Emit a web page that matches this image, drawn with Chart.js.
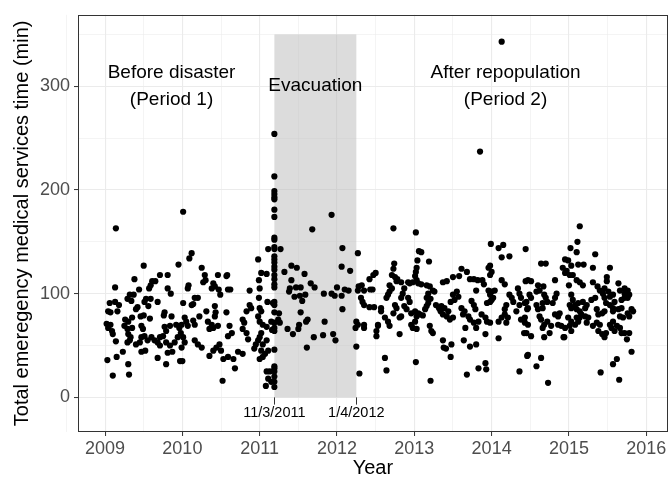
<!DOCTYPE html>
<html>
<head>
<meta charset="utf-8">
<script src="https://cdn.jsdelivr.net/npm/chart.js@4.4.0/dist/chart.umd.min.js"></script>
<style>
html,body{margin:0;padding:0;background:#ffffff;}
canvas{display:block;}
</style>
</head>
<body>
<canvas id="c" width="671" height="479"></canvas>
<script>
// ---- data: [decimal year, minutes] ----
const period1Points = [
[2009.14,163],[2009.50,127],[2009.95,128],[2009.38,114],[2009.71,118],[2009.81,118],[2009.65,112],[2009.61,112],
[2009.13,106],[2009.44,104],[2009.57,105],[2009.59,108],[2009.81,105],[2009.85,100],[2009.32,99],[2009.37,99],
[2009.29,95],[2009.34,93],[2009.53,95],[2009.59,95],[2009.51,92],[2009.68,92],[2009.06,91],[2009.13,92],
[2009.18,89],[2009.04,83],[2009.07,82],[2009.16,83],[2009.42,87],[2009.40,85],[2009.56,88],[2009.77,82],
[2009.76,79],[2009.86,78],[2010.01,91],[2009.35,77],[2009.46,78],[2009.50,79],[2009.58,76],[2009.02,71],
[2009.07,70],[2009.04,67],[2009.09,64],[2009.26,75],[2009.30,73],[2009.25,69],[2009.29,66],[2009.35,67],
[2009.47,69],[2009.49,66],[2009.77,68],[2009.84,69],[2009.79,64],[2009.92,70],[2009.96,67],[2009.98,62],
[2009.10,61],[2009.30,61],[2009.33,58],[2009.32,55],[2009.29,53],[2009.47,58],[2009.51,59],[2009.55,55],
[2009.60,58],[2009.64,55],[2009.68,53],[2009.71,58],[2009.75,59],[2009.40,51],[2009.45,53],[2009.79,53],
[2009.84,50],[2009.90,53],[2009.94,58],[2009.14,54],[2009.71,50],[2009.47,44],[2009.52,45],[2009.81,43],
[2009.87,44],[2009.23,44],[2009.15,39],[2009.03,36],[2009.68,38],[2009.30,32],[2009.79,32],[2009.97,35],
[2010.00,35],[2009.10,21],[2009.31,22],
[2010.01,179],[2010.12,139],[2010.09,134],[2010.25,125],[2010.29,118],[2010.27,111],[2010.30,113],[2010.46,118],
[2010.57,117],[2010.58,118],[2010.40,110],[2010.42,107],[2010.38,105],[2010.08,108],[2010.07,105],[2010.47,104],
[2010.49,99],[2010.59,104],[2010.62,104],[2010.98,133],[2011.02,120],[2010.99,113],[2010.87,103],[2011.00,105],
[2010.99,96],[2010.16,96],[2010.20,96],[2010.14,90],[2010.12,89],[2010.31,83],[2010.42,88],[2010.43,82],
[2010.42,78],[2010.57,82],[2010.03,77],[2010.05,73],[2009.99,70],[2010.07,69],[2010.14,74],[2010.16,70],
[2010.22,78],[2010.33,73],[2010.38,70],[2010.35,66],[2010.40,67],[2010.46,69],[2010.61,69],[2010.64,62],
[2010.59,59],[2010.78,75],[2010.80,72],[2010.78,66],[2010.83,62],[2010.85,56],[2010.87,89],[2010.89,86],
[2010.83,83],[2011.00,86],[2011.02,83],[2010.98,78],[2011.00,73],[2011.04,70],[2011.02,62],[2011.00,58],
[2010.98,55],[2011.04,51],[2011.02,45],[2011.04,39],[2011.00,37],[2011.09,25],[2011.08,11],[2010.01,58],
[2010.03,53],[2009.99,48],[2010.16,55],[2010.20,51],[2010.25,48],[2010.35,40],[2010.40,45],[2010.44,48],
[2010.48,51],[2010.50,45],[2010.53,37],[2010.59,39],[2010.66,37],[2010.72,44],[2010.78,42],[2010.68,28],
[2010.52,16],[2010.95,51],[2010.93,47],
[2011.11,143],[2011.09,119],[2011.10,92],[2011.17,91],[2011.15,73],[2011.09,68],[2011.16,65],[2011.09,55],
[2011.11,45],[2011.07,42],[2011.13,25],[2011.11,18],[2011.15,15]
];
const evacuationPoints = [
[2011.19,254],[2011.19,213],[2011.19,199],[2011.19,196],[2011.19,193],[2011.19,191],[2011.19,181],[2011.19,174],
[2011.19,154],[2011.19,152],[2011.19,145],[2011.19,143],[2011.19,136],[2011.19,133],[2011.19,130],[2011.19,126],
[2011.19,123],[2011.19,118],[2011.19,114],[2011.19,109],[2011.19,106],[2011.19,92],[2011.19,89],[2011.19,82],
[2011.19,72],[2011.19,67],[2011.19,64],[2011.19,46],[2011.19,30],[2011.19,28],[2011.19,25],[2011.19,20],
[2011.19,15],[2011.19,10],
[2011.27,143],[2011.25,81],[2011.24,75],[2011.26,72],
[2011.32,121],[2011.41,127],[2011.48,125],[2011.58,119],[2011.41,113],[2011.68,162],[2011.93,176],[2012.07,144],
[2012.06,126],[2012.17,122],[2011.39,105],[2011.47,106],[2011.53,106],[2011.38,102],[2011.45,97],[2011.52,98],
[2011.59,99],[2011.55,93],[2011.66,110],[2011.71,106],[2011.83,100],[2011.93,100],[2011.97,98],[2012.00,106],
[2012.06,98],[2012.10,104],[2012.15,103],[2012.07,85],[2011.53,82],[2011.62,75],[2011.60,73],[2011.84,73],
[2011.51,70],[2011.50,66],[2011.36,66],[2011.43,61],[2011.70,58],[2011.82,60],[2011.95,61],[2011.98,55],
[2011.61,48]
];
const period2Points = [
[2012.27,139],[2012.25,73],[2012.24,67],[2012.25,49],[2012.29,23],[2012.27,103],
[2012.73,163],[2013.02,159],[2013.06,141],[2013.09,140],[2013.19,131],[2013.04,132],[2012.74,129],[2012.73,124],
[2013.03,125],[2013.02,121],[2012.50,120],[2012.47,118],[2012.42,114],[2012.71,118],[2012.75,116],[2012.78,114],
[2012.77,112],[2013.01,117],[2013.03,113],[2012.98,111],[2013.05,110],[2013.09,109],[2012.83,111],[2012.92,111],
[2012.94,110],[2012.28,107],[2012.32,108],[2012.35,103],[2012.43,104],[2012.46,104],[2012.68,108],[2012.71,105],
[2012.68,102],[2012.66,99],[2012.64,96],[2012.87,105],[2012.85,100],[2012.83,96],[2012.92,96],[2012.94,92],
[2013.16,108],[2013.20,107],[2013.24,103],[2013.26,102],[2013.18,100],[2013.16,96],[2012.31,96],[2012.33,92],
[2012.35,89],[2012.42,87],[2012.48,87],[2012.57,86],[2012.57,83],[2012.75,89],[2012.77,86],[2012.73,81],
[2012.87,88],[2012.90,85],[2012.83,78],[2012.81,77],[2012.96,81],[2013.01,83],[2013.05,81],[2013.07,80],
[2013.11,79],[2013.03,78],[2013.16,88],[2013.18,91],[2013.21,95],[2013.14,85],[2013.28,89],[2013.32,86],
[2013.34,83],[2013.37,80],[2012.27,70],[2012.35,70],[2012.35,67],[2012.53,69],[2012.51,64],[2012.51,59],
[2012.53,70],[2012.62,77],[2012.66,73],[2012.68,69],[2012.81,61],[2012.96,70],[2012.98,67],[2013.03,66],
[2013.01,73],[2013.20,69],[2013.22,64],[2013.24,62],[2013.37,55],[2013.38,48],[2012.62,38],[2012.64,26],
[2013.02,34],[2013.21,16],
[2013.85,237],[2014.13,343],[2013.99,148],[2014.09,144],[2014.15,147],[2014.44,143],[2014.13,135],[2014.23,136],
[2013.61,124],[2013.68,121],[2013.58,117],[2013.98,127],[2013.96,125],[2014.00,121],[2013.98,118],[2013.37,111],
[2013.42,112],[2013.50,116],[2013.72,114],[2013.77,114],[2013.82,113],[2013.88,113],[2013.90,109],[2014.13,113],
[2014.17,109],[2014.44,112],[2013.55,102],[2013.50,99],[2013.57,97],[2013.52,94],[2013.47,92],[2013.80,103],
[2013.74,93],[2013.77,89],[2013.79,85],[2013.96,103],[2014.00,102],[2014.04,103],[2013.98,99],[2014.02,96],
[2013.98,92],[2013.94,91],[2014.00,94],[2014.23,99],[2014.26,96],[2014.28,92],[2014.19,89],[2014.17,85],
[2014.34,105],[2014.36,100],[2014.38,96],[2014.36,89],[2014.43,91],[2014.46,85],[2013.35,88],[2013.39,86],
[2013.44,83],[2013.42,78],[2013.46,75],[2013.50,77],[2013.61,86],[2013.65,83],[2013.63,80],[2013.70,78],
[2013.72,75],[2013.77,72],[2013.83,73],[2013.80,67],[2013.87,80],[2013.92,77],[2013.94,73],[2013.98,72],
[2014.09,73],[2014.13,77],[2014.17,80],[2014.19,72],[2014.21,77],[2014.32,83],[2014.38,75],[2014.43,72],
[2013.66,67],[2013.92,61],[2014.09,57],[2014.42,62],[2013.41,47],[2013.48,51],[2013.47,39],[2013.64,55],
[2013.72,49],[2013.80,51],[2014.46,40],[2013.68,22],[2013.83,28],[2013.92,33],[2013.93,27],[2014.36,25],
[2015.14,165],[2015.11,150],[2015.10,140],[2015.02,144],[2015.34,138],[2014.95,133],[2014.99,132],[2014.64,129],
[2014.70,129],[2014.92,125],[2014.97,122],[2015.03,127],[2015.12,128],[2015.19,128],[2015.31,125],[2015.53,125],
[2014.95,120],[2015.01,118],[2015.05,118],[2014.82,113],[2014.47,113],[2014.51,112],[2015.10,113],[2015.14,111],
[2015.18,108],[2015.31,111],[2015.49,116],[2015.49,112],[2015.64,110],[2015.00,108],[2014.60,108],[2014.67,107],
[2014.62,103],[2014.58,102],[2015.37,107],[2015.40,103],[2015.46,105],[2015.44,100],[2015.51,102],[2015.57,99],
[2015.53,97],[2015.66,103],[2015.72,105],[2015.76,103],[2015.72,100],[2015.78,99],[2014.49,99],[2014.51,96],
[2014.45,92],[2014.68,99],[2014.70,96],[2014.66,91],[2014.72,92],[2014.84,100],[2014.82,96],[2014.79,91],
[2015.03,99],[2015.05,94],[2015.01,89],[2015.08,89],[2015.12,91],[2015.18,92],[2015.23,89],[2015.29,94],
[2015.34,96],[2015.46,96],[2015.48,91],[2015.53,89],[2015.57,86],[2015.59,92],[2015.68,94],[2015.72,96],
[2015.76,96],[2014.47,86],[2014.58,89],[2014.60,85],[2014.66,86],[2014.88,81],[2014.86,78],[2014.82,80],
[2015.03,86],[2015.10,85],[2015.14,83],[2015.21,86],[2015.16,80],[2015.21,78],[2015.25,77],[2015.36,85],
[2015.38,80],[2015.43,81],[2015.46,83],[2015.57,83],[2015.64,85],[2015.68,86],[2015.66,78],[2015.70,77],
[2015.76,81],[2015.81,85],[2015.83,83],[2015.78,78],[2014.43,77],[2014.47,70],[2014.45,62],[2014.51,59],
[2014.62,78],[2014.64,75],[2014.68,70],[2014.66,67],[2014.72,73],[2014.77,69],[2014.75,62],[2014.86,70],
[2014.90,69],[2014.95,67],[2014.93,58],[2014.99,77],[2015.03,73],[2015.01,69],[2015.08,70],[2015.12,73],
[2015.10,77],[2015.14,77],[2015.23,72],[2015.31,69],[2015.36,72],[2015.40,70],[2015.38,64],[2015.43,61],
[2015.46,58],[2015.53,70],[2015.57,73],[2015.55,67],[2015.59,64],[2015.62,69],[2015.66,67],[2015.68,62],
[2015.72,62],[2015.78,62],[2015.48,62],[2014.68,58],[2014.94,58],[2015.03,64],[2015.75,56],[2015.81,44],
[2014.47,41],[2014.64,38],[2014.58,30],[2014.73,14],[2015.41,24],[2015.62,37],[2015.57,32],[2015.65,17]
];

// ---- axes / labels ----
const yearTicks = [2009, 2010, 2011, 2012, 2013, 2014, 2015, 2016];
const minuteTicks = [0, 100, 200, 300];
const xLimits = [2008.65, 2016.28];
const yLimits = [-33.4, 368.9];
const xTitle = 'Year';
const yTitle = 'Total emeregency medical services time (min)';

// ---- evacuation window and annotations ----
const evacuationWindow = [2011.19, 2012.25];   // 11 Mar 2011 – 1 Apr 2012
const evacuationTop = 350;
const eventDateLabels = ['11/3/2011', '1/4/2012'];
const periodTexts = [
  { x: 2009.86, lines: ['Before disaster', '(Period 1)'] },
  { x: 2011.72, lines: ['Evacuation'] },
  { x: 2014.18, lines: ['After repopulation', '(Period 2)'] }
];
const periodTextY = 300;

const FONT = '"Liberation Sans", Arial, Helvetica, sans-serif';

function isWhole(v){ return Math.abs(v - Math.round(v)) < 1e-6; }

const xGrid = [];
yearTicks.forEach(y => { xGrid.push(y - 0.5); xGrid.push(y); });
const yGrid = [];
minuteTicks.forEach(v => { yGrid.push(v); yGrid.push(v + 50); });

const annotationPlugin = {
  id: 'annot',
  beforeDatasetsDraw(chart) {
    const { ctx, scales: { x, y } } = chart;
    const x0 = x.getPixelForValue(evacuationWindow[0]);
    const x1 = x.getPixelForValue(evacuationWindow[1]);
    const yt = y.getPixelForValue(evacuationTop);
    const yb = y.getPixelForValue(0);
    ctx.save();
    ctx.fillStyle = 'rgba(185,185,185,0.5)';
    ctx.fillRect(x0, yt, x1 - x0, yb - yt);
    ctx.restore();
  },
  afterDatasetsDraw(chart) {
    const { ctx, scales: { x, y }, chartArea } = chart;
    ctx.save();
    // event date ticks + labels
    ctx.strokeStyle = '#333333';
    ctx.lineWidth = 1;
    ctx.fillStyle = '#000000';
    ctx.font = '14.5px ' + FONT;
    ctx.textAlign = 'center';
    ctx.textBaseline = 'middle';
    evacuationWindow.forEach((d, i) => {
      const px = Math.round(x.getPixelForValue(d)) + 0.5;
      ctx.beginPath();
      ctx.moveTo(px, y.getPixelForValue(0));
      ctx.lineTo(px, y.getPixelForValue(-7));
      ctx.stroke();
      ctx.fillText(eventDateLabels[i], x.getPixelForValue(d), y.getPixelForValue(-15.5));
    });
    // period texts
    ctx.font = '19px ' + FONT;
    ctx.fillStyle = '#000000';
    periodTexts.forEach(t => {
      const n = t.lines.length;
      t.lines.forEach((line, i) => {
        const off = (i - (n - 1) / 2) * 26.5;
        ctx.fillText(line, x.getPixelForValue(t.x), y.getPixelForValue(periodTextY) + off);
      });
    });
    ctx.restore();
  },
  afterDraw(chart) {
    const { ctx, chartArea: a } = chart;
    ctx.save();
    ctx.strokeStyle = '#333333';
    ctx.lineWidth = 1;
    ctx.strokeRect(Math.round(a.left) + 0.5, Math.round(a.top) + 0.5, Math.round(a.right - a.left) - 1, Math.round(a.bottom - a.top) - 1);
    // axis titles
    ctx.fillStyle = '#000000';
    ctx.font = '20px ' + FONT;
    ctx.textAlign = 'center';
    ctx.textBaseline = 'middle';
    ctx.fillText(xTitle, (a.left + a.right) / 2, 468);
    ctx.translate(22, (a.top + a.bottom) / 2);
    ctx.rotate(-Math.PI / 2);
    ctx.fillText(yTitle, 0, 0);
    ctx.restore();
  }
};

const toDataset = pts => ({
  data: pts.map(p => ({ x: p[0], y: p[1] })),
  backgroundColor: '#000000',
  borderColor: '#000000',
  borderWidth: 0,
  pointRadius: 3.1,
  pointHoverRadius: 3.1
});

new Chart(document.getElementById('c').getContext('2d'), {
  type: 'scatter',
  data: { datasets: [toDataset(period1Points), toDataset(evacuationPoints), toDataset(period2Points)] },
  options: {
    responsive: false,
    animation: false,
    events: [],
    layout: { padding: { top: 7, right: 3, left: 0, bottom: 0 } },
    plugins: { legend: { display: false }, tooltip: { enabled: false } },
    scales: {
      x: {
        type: 'linear',
        min: xLimits[0], max: xLimits[1],
        afterBuildTicks(axis) { axis.ticks = xGrid.map(v => ({ value: v })); },
        afterFit(axis) { axis.height = 47; },
        border: { display: false },
        grid: {
          color: '#EBEBEB',
          lineWidth: c => (c.tick && isWhole(c.tick.value)) ? 1.1 : 0.55,
          tickLength: 4,
          tickColor: c => (c.tick && isWhole(c.tick.value)) ? '#333333' : 'rgba(0,0,0,0)',
          tickWidth: 1
        },
        ticks: {
          autoSkip: false, maxRotation: 0, minRotation: 0, padding: 2,
          color: '#4D4D4D', font: { family: FONT, size: 18 },
          callback: v => isWhole(v) ? String(Math.round(v)) : ''
        }
      },
      y: {
        type: 'linear',
        min: yLimits[0], max: yLimits[1],
        afterBuildTicks(axis) { axis.ticks = yGrid.map(v => ({ value: v })); },
        afterFit(axis) { axis.width = 78; },
        border: { display: false },
        grid: {
          color: '#EBEBEB',
          lineWidth: c => (c.tick && c.tick.value % 100 === 0) ? 1.1 : 0.55,
          tickLength: 4,
          tickColor: c => (c.tick && c.tick.value % 100 === 0) ? '#333333' : 'rgba(0,0,0,0)',
          tickWidth: 1
        },
        ticks: {
          padding: 4,
          color: '#4D4D4D', font: { family: FONT, size: 18 },
          callback: v => (v % 100 === 0) ? String(v) : ''
        }
      }
    }
  },
  plugins: [annotationPlugin]
});
</script>
</body>
</html>
